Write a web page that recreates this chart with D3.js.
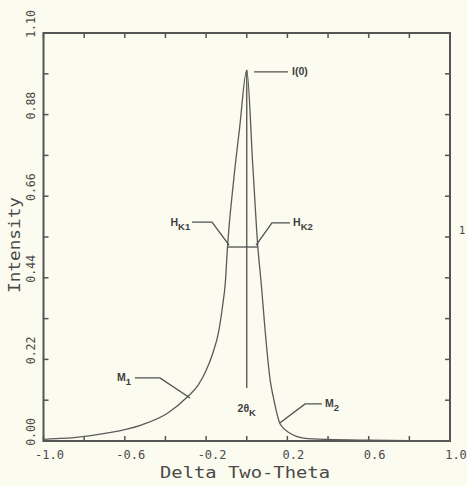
<!DOCTYPE html>
<html lang="en">
<head>
<meta charset="utf-8" />
<title>Intensity vs Delta Two-Theta</title>
<script src="https://cdn.jsdelivr.net/npm/d3@7"></script>
<style>
  body { margin: 0; background: #fbfbef; }
  svg { display: block; }
  .mono { font-family: "DejaVu Sans Mono", monospace; fill: #4a4a4a; }
  .ann { font-family: "Liberation Sans", Arial, sans-serif; font-weight: bold; fill: #3e3e3e; font-size: 10.5px; }
</style>
</head>
<body>
<div id="chart"></div>
<script>
// profile
const deltaTwoTheta = [-1.0, -0.98, -0.85, -0.69, -0.52, -0.39, -0.29, -0.24, -0.20, -0.165, -0.14, -0.12, -0.105, -0.095, -0.065, -0.035, 0.0,
  0.03, 0.055, 0.072, 0.09, 0.115, 0.13, 0.165, 0.215, 0.28, 0.4, 0.6, 0.8, 1.0];
const intensity = [0.004, 0.005, 0.009, 0.021, 0.043, 0.075, 0.12, 0.15, 0.19, 0.24, 0.29, 0.36, 0.43, 0.52, 0.70, 0.845, 1.0,
  0.74, 0.52, 0.42, 0.30, 0.165, 0.12, 0.045, 0.02, 0.008, 0.004, 0.002, 0.001, 0.001];

const xTicks = [-1.0, -0.8, -0.6, -0.4, -0.2, 0.0, 0.2, 0.4, 0.6, 0.8, 1.0];
const xTickLabels = ["-1.0", "", "-0.6", "", "-0.2", "", "0.2", "", "0.6", "", "1.0"];
const yTicks = [0, 0.11, 0.22, 0.33, 0.44, 0.55, 0.66, 0.77, 0.88, 0.99, 1.10];
const yTickLabels = ["0.00", "", "0.22", "", "0.44", "", "0.66", "", "0.88", "", "1.10"];

const peakPos = 0.0;
const halfMax = 0.523;
const halfLeft = -0.097, halfRight = 0.055;

const W = 467, H = 486;
const m = { left: 43.5, right: 17, top: 33, bottom: 45 };

const x = d3.scaleLinear().domain([-1, 1]).range([m.left, W - m.right]);
const y = d3.scaleLinear().domain([0, 1.1]).range([H - m.bottom, m.top]);

const svg = d3.select("#chart").append("svg").attr("width", W).attr("height", H);
const ink = "#555";

// frame
svg.append("rect")
  .attr("x", x(-1)).attr("y", y(1.1))
  .attr("width", x(1) - x(-1)).attr("height", y(0) - y(1.1))
  .attr("fill", "none").attr("stroke", ink).attr("stroke-width", 2);

// inward ticks on all four sides
const tk = 5;
svg.append("g").selectAll("line").data(xTicks).join("line")
  .attr("x1", d => x(d)).attr("x2", d => x(d))
  .attr("y1", y(0)).attr("y2", y(0) - tk)
  .attr("stroke", ink).attr("stroke-width", 1.5);
svg.append("g").selectAll("line").data(xTicks).join("line")
  .attr("x1", d => x(d)).attr("x2", d => x(d))
  .attr("y1", y(1.1)).attr("y2", y(1.1) + tk)
  .attr("stroke", ink).attr("stroke-width", 1.5);
svg.append("g").selectAll("line").data(yTicks).join("line")
  .attr("x1", x(-1)).attr("x2", x(-1) + tk)
  .attr("y1", d => y(d)).attr("y2", d => y(d))
  .attr("stroke", ink).attr("stroke-width", 1.5);
svg.append("g").selectAll("line").data(yTicks).join("line")
  .attr("x1", x(1)).attr("x2", x(1) - tk)
  .attr("y1", d => y(d)).attr("y2", d => y(d))
  .attr("stroke", ink).attr("stroke-width", 1.5);

// tick labels
svg.append("g").selectAll("text").data(xTicks.filter((d, i) => xTickLabels[i])).join("text")
  .attr("class", "mono")
  .attr("x", d => x(d) + 6).attr("y", y(0) + 18)
  .attr("text-anchor", "middle").attr("font-size", 12)
  .text(d => xTickLabels[xTicks.indexOf(d)]);

svg.append("g").selectAll("text").data(yTicks.filter((d, i) => yTickLabels[i])).join("text")
  .attr("class", "mono")
  .attr("transform", d => `translate(35,${y(d) - 9}) rotate(-90)`)
  .attr("text-anchor", "middle").attr("font-size", 11.5)
  .text(d => yTickLabels[yTicks.indexOf(d)]);

// axis titles
svg.append("text").attr("class", "mono")
  .attr("x", 245).attr("y", 478).attr("text-anchor", "middle")
  .attr("font-size", 15).attr("textLength", 170).attr("lengthAdjust", "spacingAndGlyphs")
  .text("Delta Two-Theta");
svg.append("text").attr("class", "mono")
  .attr("transform", "translate(20,245) rotate(-90)").attr("text-anchor", "middle")
  .attr("font-size", 15).attr("textLength", 96).attr("lengthAdjust", "spacingAndGlyphs")
  .text("Intensity");
svg.append("text").attr("class", "mono")
  .attr("x", 462).attr("y", 234).attr("text-anchor", "middle").attr("font-size", 11)
  .text("1");

// profile curve
const pts = deltaTwoTheta.map((d, i) => [d, intensity[i]]);
svg.append("path")
  .datum(pts)
  .attr("fill", "none").attr("stroke", "#5a5a5a").attr("stroke-width", 1.3)
  .attr("d", d3.line().x(d => x(d[0])).y(d => y(d[1])).curve(d3.curveMonotoneX));

// annotations
const lineGen = d3.line().x(d => x(d[0])).y(d => y(d[1]));
const annLines = [
  [[peakPos, 1.0], [peakPos, 0.143]],                        // 2θK
  [[halfLeft, halfMax], [halfRight, halfMax]],               // half max
  [[0.036, 0.995], [0.203, 0.995]],                          // I(0)
  [[-0.269, 0.59], [-0.171, 0.59], [-0.087, 0.528]],         // HK1
  [[0.046, 0.528], [0.124, 0.588], [0.213, 0.588]],          // HK2
  [[-0.550, 0.170], [-0.427, 0.170], [-0.279, 0.116]],       // M1
  [[0.164, 0.049], [0.287, 0.100], [0.370, 0.100]]           // M2
];
svg.append("g").selectAll("path").data(annLines).join("path")
  .attr("fill", "none").attr("stroke", "#505050").attr("stroke-width", 1.3)
  .attr("d", lineGen);

function label(xv, yv, anchor, main, sub) {
  const t = svg.append("text").attr("class", "ann")
    .attr("x", x(xv)).attr("y", y(yv) + 3.5).attr("text-anchor", anchor);
  t.append("tspan").text(main);
  if (sub) t.append("tspan").attr("dy", 4).attr("font-size", 9.5).text(sub);
}
label(0.223, 0.995, "start", "I(0)");
label(-0.278, 0.59, "end", "H", "K1");
label(0.228, 0.588, "start", "H", "K2");
label(-0.569, 0.170, "end", "M", "1");
label(0.385, 0.100, "start", "M", "2");
label(peakPos, 0.088, "middle", "2θ", "K");
</script>
</body>
</html>
